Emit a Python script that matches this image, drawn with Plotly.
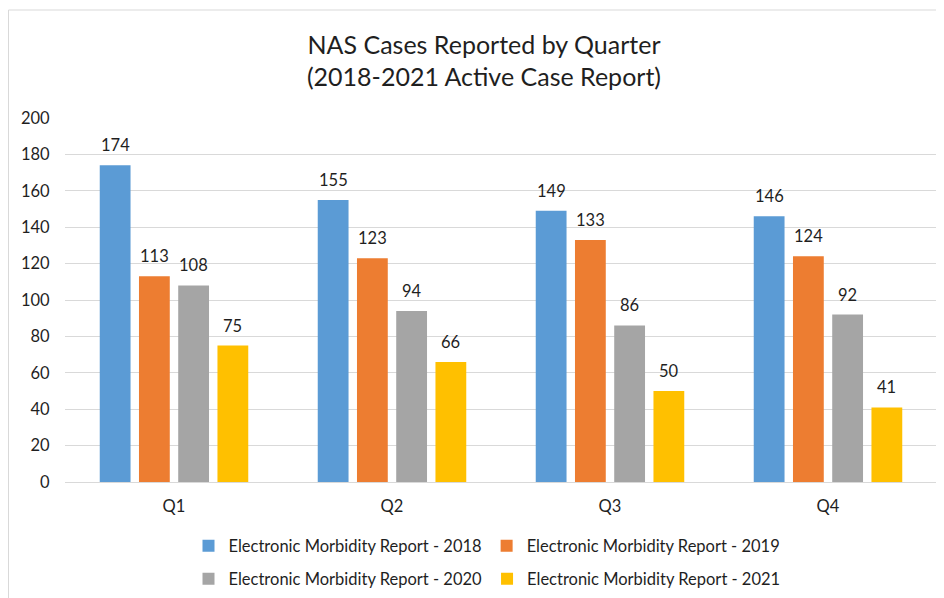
import plotly.graph_objects as go

quarters = ["Q1", "Q2", "Q3", "Q4"]
series_names = [
    "Electronic Morbidity Report - 2018",
    "Electronic Morbidity Report - 2019",
    "Electronic Morbidity Report - 2020",
    "Electronic Morbidity Report - 2021",
]
values_2018 = [174, 155, 149, 146]
values_2019 = [113, 123, 133, 124]
values_2020 = [108, 94, 86, 92]
values_2021 = [75, 66, 50, 41]
y_ticks = [0, 20, 40, 60, 80, 100, 120, 140, 160, 180, 200]

series_values = [values_2018, values_2019, values_2020, values_2021]
colors = ["#5B9BD5", "#ED7D31", "#A5A5A5", "#FFC000"]
legends = ["legend", "legend", "legend2", "legend2"]

FONT = "Lato"
TXT = "#1f1f1f"
FS = 16.5

# the page body adds an 8px offset; figure is sized to fill the rest of the window
W, H = 936, 590
OFF = 8
L, R, T, B = 57, 7, 110, 116
pw, ph = W - L - R, H - T - B

fig = go.Figure()
for name, vals, col, lg in zip(series_names, series_values, colors, legends):
    fig.add_trace(go.Bar(
        x=quarters, y=vals, name=name, marker=dict(color=col, line=dict(width=0)),
        legend=lg,
    ))

# data labels
bargap = 0.28
groupgap = 0.215
slot = (1 - bargap) / 4
annotations = []
for k, vals in enumerate(series_values):
    off = (k - 1.5) * slot
    for i, v in enumerate(vals):
        annotations.append(dict(
            x=i + off, y=v, xref="x", yref="y", text=str(v), showarrow=False,
            yanchor="bottom", yshift=8, font=dict(family=FONT, size=FS, color=TXT),
        ))

bx0 = (0.5 - L) / pw
by1 = (H - B - 2) / ph
shapes = [
    dict(type="line", xref="paper", yref="paper", x0=bx0, x1=bx0, y0=-(B + 5) / ph, y1=by1,
         line=dict(color="#d9d9d9", width=1)),
    dict(type="line", xref="paper", yref="paper", x0=bx0, x1=(W - L + 5) / pw, y0=by1, y1=by1,
         line=dict(color="#d9d9d9", width=1)),
]

fig.update_layout(
    width=W, height=H,
    margin=dict(l=L, r=R, t=T, b=B),
    paper_bgcolor="white", plot_bgcolor="white",
    font=dict(family=FONT, color=TXT),
    title=dict(
        text="NAS Cases Reported by Quarter<br>(2018-2021 Active Case Report)",
        x=(484 - OFF) / W, xanchor="center", xref="container",
        y=1 - 45.5 / H, yanchor="middle", yref="container",
        font=dict(family=FONT, size=25, color=TXT),
    ),
    barmode="group", bargap=bargap, bargroupgap=groupgap,
    xaxis=dict(
        type="category", showgrid=False, showline=True, linecolor="#d9d9d9", linewidth=1,
        ticks="outside", ticklen=9, tickcolor="rgba(0,0,0,0)",
        tickfont=dict(family=FONT, size=FS, color=TXT), range=[-0.5, 3.5],
    ),
    yaxis=dict(
        range=[0, 200], tickvals=y_ticks, showgrid=True, gridcolor="#d9d9d9", gridwidth=1,
        zeroline=False, ticks="outside", ticklen=11, tickcolor="rgba(0,0,0,0)",
        tickfont=dict(family=FONT, size=FS, color=TXT),
    ),
    legend=dict(
        orientation="h", xref="container", yref="container", x=(487 - OFF) / W, xanchor="center",
        y=1 - (546 - OFF) / H, yanchor="middle", font=dict(family=FONT, size=FS, color=TXT),
        itemclick=False, bgcolor="rgba(0,0,0,0)",
    ),
    legend2=dict(
        orientation="h", xref="container", yref="container", x=(487 - OFF) / W, xanchor="center",
        y=1 - (579 - OFF) / H, yanchor="middle", font=dict(family=FONT, size=FS, color=TXT),
        itemclick=False, bgcolor="rgba(0,0,0,0)",
    ),
    annotations=annotations,
    shapes=shapes,
    showlegend=True,
)

fig.write_html("out.html")
